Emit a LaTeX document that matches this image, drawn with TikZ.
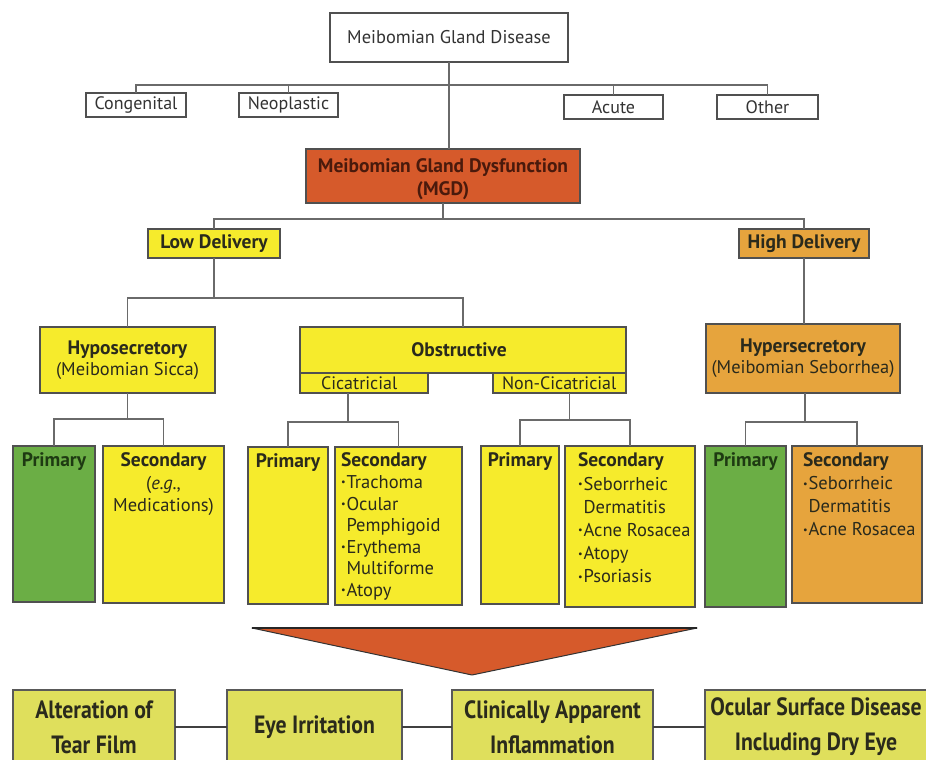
\documentclass[tikz,border=0pt]{standalone}
\usepackage{fontspec}
\setmainfont{PT Sans}
\newfontfamily\condf[FakeStretch=0.87]{PT Sans}
\usetikzlibrary{calc}
\definecolor{bordc}{HTML}{505050}
\definecolor{linec}{HTML}{6A6A6A}
\definecolor{mgdred}{HTML}{D65A2B}
\definecolor{mgdtxt}{HTML}{4A1A0C}
\definecolor{yel}{HTML}{F6EB2C}
\definecolor{orn}{HTML}{E6A43D}
\definecolor{grn}{HTML}{6BAE45}
\definecolor{btm}{HTML}{DFDF5C}
\definecolor{txtc}{HTML}{2A2A1C}
\definecolor{gtxt}{HTML}{1E3A12}
\newcommand{\mybul}{\makebox[0.3em][l]{\raisebox{0.14em}{\scalebox{0.55}{•}}}}
\newcommand{\myind}{\hspace*{0.3em}}
\begin{document}
\begin{tikzpicture}[x=1pt,y=-1pt,
  bx/.style={draw=bordc, line width=1.4pt, inner sep=0pt, outer sep=0pt, rectangle, text=txtc},
  wbx/.style={bx, fill=white, text=black!80},
  ybx/.style={bx, fill=yel},
  obx/.style={bx, fill=orn},
  gbx/.style={bx, fill=grn},
  bbx/.style={bx, fill=btm, draw=black!65, text=txtc, align=center,
     font=\condf\bfseries\fontsize{25}{35}\selectfont},
  ln/.style={draw=linec, line width=1.6pt},
  bln/.style={draw=black!75, line width=2.6pt},
  txt/.style={inner sep=0pt, outer sep=0pt, text=txtc},
  small/.style={font=\fontsize{18}{20}\selectfont},
  deliv/.style={font=\bfseries\fontsize{19.5}{21}\selectfont},
  hd/.style={font=\bfseries\fontsize{19.5}{21}\selectfont},
  lst/.style={txt, align=left, anchor=north west, font=\fontsize{18.5}{21.6}\selectfont},
]
\useasboundingbox (0,0) rectangle (926,760);
\clip (0,0) rectangle (926,760);
\fill[white] (0,0) rectangle (926,760);

% ---- level 0/1
\node[wbx, minimum width=238pt, minimum height=49pt, font=\fontsize{18.4}{20}\selectfont] (mgdis) at (449,37.5) {Meibomian Gland Disease};
\node[wbx, small, minimum width=100pt, minimum height=24pt] (cong) at (136,105) {Congenital};
\node[wbx, small, minimum width=99pt, minimum height=24pt] (neo) at (288.5,105) {Neoplastic};
\node[wbx, small, minimum width=99pt, minimum height=24pt] (acute) at (613.5,107) {Acute};
\node[wbx, small, minimum width=101pt, minimum height=24pt] (other) at (767.5,107) {Other};

\node[bx, fill=mgdred, minimum width=274pt, minimum height=54pt] (mgd) at (443,176) {};
\node[txt, text=mgdtxt, align=center, font=\bfseries\fontsize{19.5}{23}\selectfont] (mgdt) at (443,179.5) {Meibomian Gland Dysfunction\\(MGD)};

\coordinate (barA) at (0,85);
\draw[ln] (cong.north) |- (other.north |- barA) -- (other.north);
\draw[ln] (neo.north) -- (neo.north |- barA);
\draw[ln] (acute.north) -- (acute.north |- barA);
\draw[ln] (mgdis.south) -- (mgdis.south |- mgd.north);

% ---- delivery
\node[ybx, deliv, minimum width=132pt, minimum height=29pt] (low) at (214,243.5) {Low Delivery};
\node[obx, deliv, minimum width=130pt, minimum height=29pt] (high) at (804,243.5) {High Delivery};
\coordinate (barB) at (0,219);
\draw[ln] (mgd.south) -- (mgd.south |- barB);
\draw[ln] (low.north) |- (high.north |- barB) -- (high.north);

% ---- level 3
\node[ybx, minimum width=175pt, minimum height=66pt, align=center, font=\fontsize{18.4}{21.5}\selectfont] (hypo) at (127.5,360)
  {{\fontsize{19.5}{21.5}\selectfont\bfseries Hyposecretory}\\(Meibomian Sicca)};
\node[ybx, minimum width=326pt, minimum height=46pt, hd] (obs) at (463,350) {\hspace*{-8pt}Obstructive};
\node[ybx, minimum width=128pt, minimum height=20pt] (cic) at (364,383) {};
\node[ybx, minimum width=133pt, minimum height=20pt] (ncic) at (559.5,383) {};
\node[txt, anchor=west, font=\fontsize{18}{20}\selectfont] (cict) at (321,383) {Cicatricial};
\node[txt, anchor=west, font=\fontsize{18}{20}\selectfont] (ncict) at (502,383) {Non-Cicatricial};
\node[obx, minimum width=194pt, minimum height=69pt, align=center, font=\fontsize{18.4}{21}\selectfont] (hyper) at (803,358.5)
  {{\fontsize{19.5}{21}\selectfont\bfseries Hypersecretory}\\(Meibomian Seborrhea)};
\coordinate (barC) at (0,298);
\draw[ln] (low.south) -- (low.south |- barC);
\draw[ln] (hypo.north) |- (obs.north |- barC) -- (obs.north);
\draw[ln] (high.south) -- (high.south |- hyper.north);

% ---- level 4
\node[gbx, minimum width=82pt, minimum height=156pt] (p1) at (54,524) {};
\node[ybx, minimum width=121pt, minimum height=157pt] (s1) at (163.5,524.5) {};
\node[ybx, minimum width=80pt, minimum height=157pt] (p2) at (288,525.5) {};
\node[ybx, minimum width=127pt, minimum height=158pt] (s2) at (398.5,526) {};
\node[ybx, minimum width=78pt, minimum height=158pt] (p3) at (520,525) {};
\node[ybx, minimum width=130pt, minimum height=161pt] (s3) at (630,526.5) {};
\node[gbx, minimum width=81pt, minimum height=161pt] (p4) at (745.5,526.5) {};
\node[obx, minimum width=130pt, minimum height=157pt] (s4) at (857,524.5) {};

\coordinate (barD) at (0,419);
\coordinate (barE) at (0,422);
\coordinate (barF) at (0,420);
\draw[ln] (hypo.south) -- (hypo.south |- barD);
\draw[ln] (p1.north) |- (s1.north |- barD) -- (s1.north);
\draw[ln] ([xshift=-16pt]cic.south) -- ([xshift=-16pt]cic.south |- barE);
\draw[ln] (p2.north) |- (s2.north |- barE) -- (s2.north);
\draw[ln] ([xshift=10pt]ncic.south) -- ([xshift=10pt]ncic.south |- barF);
\draw[ln] (p3.north) |- (s3.north |- barF) -- (s3.north);
\draw[ln] ([xshift=2pt]hyper.south) -- ([xshift=2pt]hyper.south |- barE);
\draw[ln] (p4.north) |- (s4.north |- barE) -- (s4.north);

% texts level 4
\node[txt, hd, text=gtxt] (p1t) at (54,462) {Primary};
\node[txt, hd] (p2t) at (288,463) {Primary};
\node[txt, hd] (p3t) at (520,462) {Primary};
\node[txt, hd, text=gtxt] (p4t) at (745.5,462) {Primary};
\node[txt, align=center, anchor=north, font=\fontsize{18.5}{22.5}\selectfont] (s1t) at (163.5,453)
  {{\fontsize{19.5}{22}\selectfont\bfseries Secondary}\\(\textit{e.g.},\\Medications)};
\node[lst] (s2t) at (341,453)
  {{\fontsize{19.5}{21.6}\selectfont\bfseries Secondary}\\\mybul Trachoma\\\mybul Ocular\\\myind Pemphigoid\\\mybul Erythema\\\myind Multiforme\\\mybul Atopy};
\node[lst, font=\fontsize{18.5}{23.2}\selectfont] (s3t) at (578,453)
  {{\fontsize{19.5}{23.2}\selectfont\bfseries Secondary}\\\mybul Seborrheic\\\myind Dermatitis\\\mybul Acne Rosacea\\\mybul Atopy\\\mybul Psoriasis};
\node[lst, font=\fontsize{18.5}{23}\selectfont] (s4t) at (803,453)
  {{\fontsize{19.5}{23}\selectfont\bfseries Secondary}\\\mybul Seborrheic\\\myind Dermatitis\\\mybul Acne Rosacea};

% ---- funnel
\coordinate (f1) at (252,628);
\coordinate (f2) at (697,628);
\coordinate (f3) at (472,675);
\filldraw[fill=mgdred, draw=black!80, line width=1pt, line join=round] (f1) -- (f2) -- (f3) -- cycle;
\draw[black!85, line width=2pt] (f1) -- (f2);

% ---- bottom
\node[bbx, minimum width=162pt, minimum height=74pt] (alt) at (94,727) {Alteration of\\Tear Film};
\node[bbx, minimum width=175pt, minimum height=74pt] (eye) at (314.5,727) {Eye Irritation};
\node[bbx, minimum width=201pt, minimum height=74pt] (clin) at (552.5,727) {Clinically Apparent\\Inflammation};
\node[bbx, minimum width=230pt, minimum height=74pt] (ocu) at (820,727) {\hspace*{-8pt}Ocular Surface Disease\\\hspace*{-8pt}Including Dry Eye};
\draw[bln] (alt.east) -- (eye.west);
\draw[bln] (eye.east) -- (clin.west);
\draw[bln] (clin.east) -- (ocu.west);
\end{tikzpicture}
\end{document}
